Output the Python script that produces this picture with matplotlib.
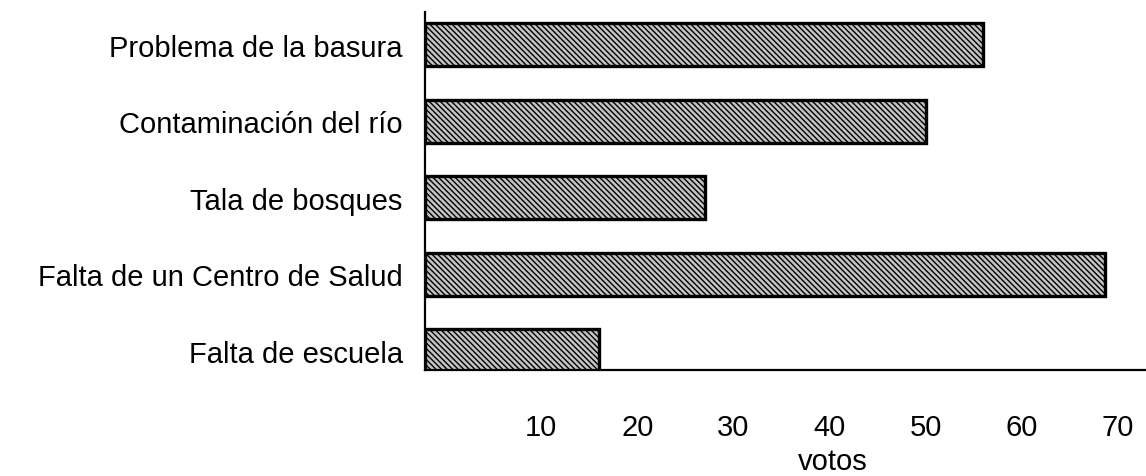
import matplotlib
matplotlib.use("Agg")
import matplotlib.pyplot as plt

categories = ["Falta de escuela", "Falta de un Centro de Salud", "Tala de bosques",
              "Contaminación del río", "Problema de la basura"]
votos = [16, 68.6, 27, 50, 56]
xticks = [10, 20, 30, 40, 50, 60, 70]

plt.rcParams['font.family'] = ['Liberation Sans', 'DejaVu Sans']
plt.rcParams['hatch.linewidth'] = 1.0
plt.rcParams['hatch.color'] = '#1a1a1a'

fig = plt.figure(figsize=(11.46, 4.77), dpi=100)
ax = fig.add_axes([425/1146, 1 - 371/477, (1146 - 425)/1146, (371 - 13)/477])

xmin, xmax = -2.08, 72.9
ypos = list(range(len(categories)))
ax.barh(ypos, [v - xmin for v in votos], height=0.56, left=xmin,
        color='#c4c4c4', edgecolor='black', linewidth=2.4, hatch='\\\\\\\\\\\\')

ax.set_xlim(xmin, xmax)
ax.set_ylim(-0.25, 4.43)
ax.set_yticks(ypos)
ax.set_yticklabels(categories, fontsize=21)
ax.set_xticks(xticks)
ax.set_xticklabels([str(t) for t in xticks], fontsize=21)
ax.tick_params(axis='both', length=0)
ax.tick_params(axis='y', pad=16)
ax.tick_params(axis='x', pad=31)
ax.set_xlabel("votos", fontsize=21)
ax.xaxis.set_label_coords(0.565, -0.215)

for s in ['top', 'right']:
    ax.spines[s].set_visible(False)
ax.spines['left'].set_linewidth(1.6)
ax.spines['bottom'].set_linewidth(1.6)

fig.savefig("out.png", dpi=100)
